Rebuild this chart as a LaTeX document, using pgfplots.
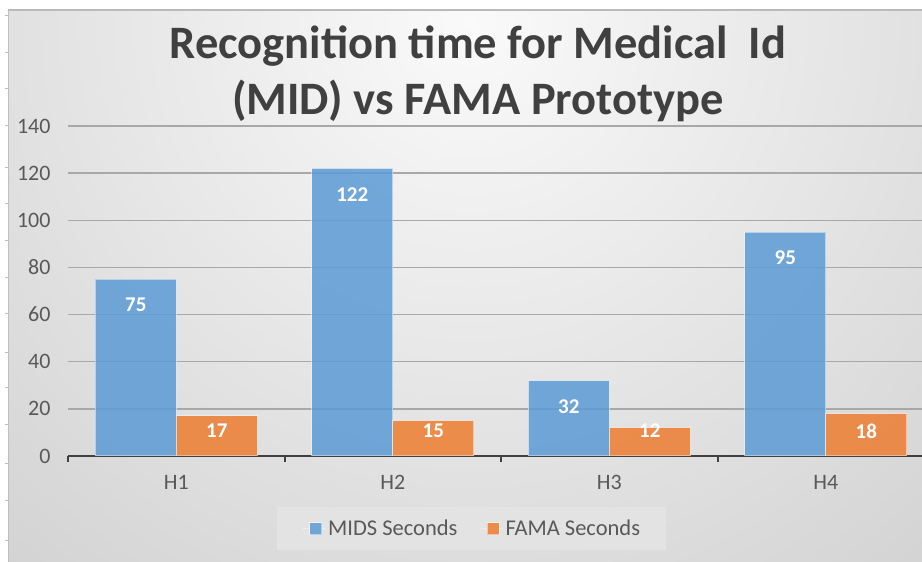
\documentclass[border=0pt]{standalone}
\usepackage{pgfplots}
\pgfplotsset{compat=1.18}
\usepackage{fontspec}
\setmainfont{Carlito}
\definecolor{midsblue}{HTML}{5B9BD5}
\definecolor{famaorange}{HTML}{ED7D31}
\definecolor{txtgray}{HTML}{595959}
\definecolor{titlegray}{HTML}{404040}
\begin{document}
\begin{tikzpicture}[x=1pt,y=1pt]
\useasboundingbox (0,0) rectangle (922,562);
\fill[white] (0,0) rectangle (922,562);
\begin{scope}
\clip (8,0) rectangle (922,552);
\shade[inner color=white!98!black, outer color=white!67!black] (470,540) circle (1450);
\end{scope}
\draw[line width=2pt, white!73!black] (8,552) -- (922,552);
\draw[line width=0.8pt, white!75!black] (8,0) -- (8,552);
\foreach \yy in {15,52,88,125,167,203,240,277,313,352,387,424,463,500,540}
  \draw[line width=0.6pt, white!75!black] (5,562-\yy) -- (8,562-\yy);
\pgfplotstableread{
x y
0.5 75
1.5 122
2.5 32
3.5 95
}\mids
\pgfplotstableread{
x y
0.5 17
1.5 15
2.5 12
3.5 18
}\fama
\begin{scope}
\clip (0,0) rectangle (922,562);
\begin{axis}[
  at={(68pt,106pt)}, anchor=origin,
  scale only axis, width=866pt, height=330pt,
  xmin=0, xmax=4, ymin=0, ymax=140,
  ybar=0pt, bar width=81pt,
  axis line style={draw=none},
  axis x line*=bottom,
  x axis line style={draw=titlegray, line width=2.5pt},
  hide y axis=false,
  xtick={0.5,1.5,2.5,3.5}, xticklabels={H1,H2,H3,H4},
  minor xtick={0,1,2,3,4},
  major tick length=0pt,
  minor tick length=6pt,
  tick align=outside,
  minor tick style={draw=titlegray, line width=2pt},
  ytick={0,20,...,140},
  ymajorgrids, grid style={white!66!black, line width=1.4pt},
  ytick style={draw=none},
  /pgf/number format/assume math mode=true,
  tick label style={font=\fontsize{22}{26}\selectfont, text=txtgray},
  yticklabel style={anchor=east, xshift=-14pt},
  xticklabel style={yshift=-16pt},
  clip=false,
  nodes near coords,
  visualization depends on={y \as \rawy},
  every node near coord/.append style={font=\bfseries\fontsize{21}{24}\selectfont, text=white, anchor=center, yshift={max(-11*2.357,(10.6-\rawy)*2.357)}},
  legend style={at={(0.2413,-0.1545)}, anchor=north west, fill=white!89!black, draw=none, legend columns=2, font=\fontsize{22.5}{26}\selectfont, text=txtgray, inner xsep=24pt, inner ysep=11pt, /tikz/every even column/.append style={column sep=19pt}},
  legend image code/.code={\path (0pt,0pt) -- (24pt,0pt); \fill[#1] (8pt,-6pt) rectangle (20pt,6pt);},
]
\addplot[fill=midsblue, fill opacity=0.85, draw=white, draw opacity=0.5, line width=1pt, text opacity=1] table[x=x,y=y] {\mids};
\addlegendentry{MIDS Seconds}
\addplot[fill=famaorange, fill opacity=0.85, draw=white, draw opacity=0.5, line width=1pt, text opacity=1] table[x=x,y=y] {\fama};
\addlegendentry{FAMA Seconds}
\end{axis}
\end{scope}
\node[font=\bfseries\fontsize{46.5}{56}\selectfont, text=titlegray, align=center] at (478,488) {Recognition time for Medical\ \ Id\\(MID) vs FAMA Prototype};
\end{tikzpicture}
\end{document}
